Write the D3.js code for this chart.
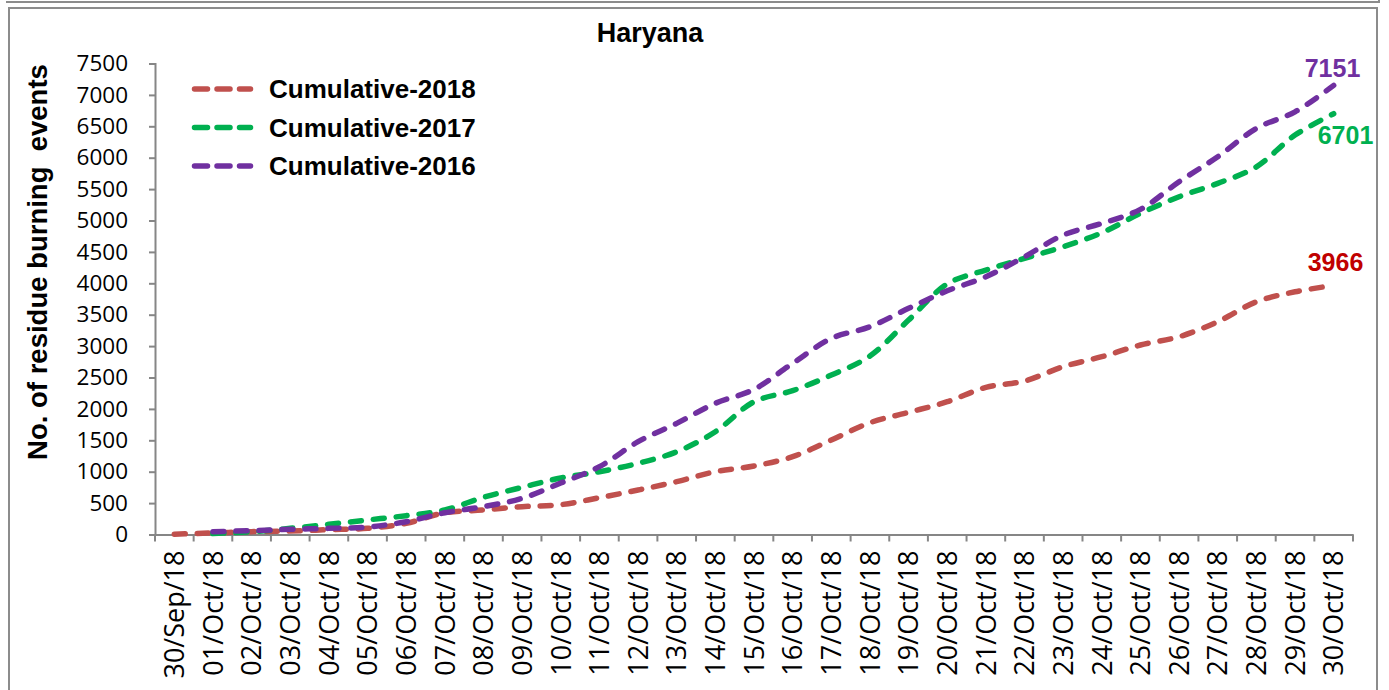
<!DOCTYPE html>
<html>
<head>
<meta charset="utf-8">
<script src="https://cdn.jsdelivr.net/npm/d3@7"></script>
<style>
  html, body { margin: 0; padding: 0; background: #fff; }
  svg { display: block; }
</style>
</head>
<body>
<svg id="chart" width="1389" height="690"></svg>
<script>
// ---- data ----
const categories = ["30/Sep/18","01/Oct/18","02/Oct/18","03/Oct/18","04/Oct/18","05/Oct/18","06/Oct/18",
  "07/Oct/18","08/Oct/18","09/Oct/18","10/Oct/18","11/Oct/18","12/Oct/18","13/Oct/18","14/Oct/18",
  "15/Oct/18","16/Oct/18","17/Oct/18","18/Oct/18","19/Oct/18","20/Oct/18","21/Oct/18","22/Oct/18",
  "23/Oct/18","24/Oct/18","25/Oct/18","26/Oct/18","27/Oct/18","28/Oct/18","29/Oct/18","30/Oct/18"];
const cumulative2018 = [5,25,45,55,77,98,178,347,390,443,475,586,708,841,1000,1090,1239,1504,1780,1945,
  2114,2343,2444,2672,2831,3017,3149,3388,3706,3865,3966];
const cumulative2017 = [null,15,45,98,162,231,300,390,592,751,900,1000,1133,1318,1637,2114,2290,2539,2842,3415,
  3990,4211,4397,4582,4805,5114,5378,5591,5855,6360,6701];
const cumulative2016 = [null,45,61,82,98,119,204,347,443,576,820,1080,1478,1770,2089,2311,2725,3123,3308,3601,
  3880,4104,4423,4768,4954,5177,5617,6015,6467,6731,7151];
const yTicks = [0,500,1000,1500,2000,2500,3000,3500,4000,4500,5000,5500,6000,6500,7000,7500];
const seriesNames = ["Cumulative-2018","Cumulative-2017","Cumulative-2016"];
const seriesColors = ["#C0504D","#00B050","#7030A0"];
const endLabelColors = ["#C00000","#00B050","#7030A0"];
const chartTitle = "Haryana";
const yTitle = "No. of residue burning  events";

const series = [cumulative2018, cumulative2017, cumulative2016];

// ---- layout ----
const svg = d3.select("#chart");
const plotLeft = 155, plotRight = 1353, plotTop = 63.5, plotBottom = 534.5;
const tickFont = "'Open Sans', 'Liberation Sans', Arial, sans-serif";
const boldFont = "'Liberation Sans', Arial, sans-serif";

// frames
svg.append("path").attr("d","M6,2 H1379 V-2").attr("fill","none").attr("stroke","#8c8c8c").attr("stroke-width",2);
svg.append("rect").attr("x",9).attr("y",8).attr("width",1368).attr("height",700)
  .attr("fill","none").attr("stroke","#8c8c8c").attr("stroke-width",2);

const x = d3.scaleBand().domain(categories).range([plotLeft, plotRight]).padding(0);
const y = d3.scaleLinear().domain([0, 7500]).range([plotBottom, plotTop]);
const cx = d => x(d) + x.bandwidth() / 2;

// y axis
const yAxis = svg.append("g").attr("transform", `translate(${plotLeft},0)`)
  .call(d3.axisLeft(y).tickValues(yTicks).tickSize(6).tickPadding(21).tickFormat(d3.format("d")));
yAxis.select(".domain").attr("stroke","#868686").attr("stroke-width",2);
yAxis.selectAll(".tick line").attr("stroke","#868686").attr("stroke-width",2);
yAxis.selectAll(".tick text").style("font-size","22.5px").style("font-family",tickFont).attr("fill","#000");

// x axis
const xAxis = svg.append("g").attr("transform", `translate(0,${plotBottom})`)
  .call(d3.axisBottom(x).tickSize(0).tickPadding(0));
xAxis.select(".domain").attr("stroke","#868686").attr("stroke-width",2);
xAxis.selectAll(".tick text")
  .style("font-size","27px").style("font-family",tickFont).attr("fill","#000")
  .attr("text-anchor","end").attr("transform","rotate(-90)")
  .attr("x",-16).attr("y",0).attr("dy","0.36em");
// boundary ticks
const edges = categories.map(d => x(d)).concat([x.range()[1]]);
xAxis.selectAll(".edge-tick").data(edges).enter().append("line")
  .attr("x1", d => d).attr("x2", d => d).attr("y1", 0).attr("y2", 7)
  .attr("stroke","#868686").attr("stroke-width",2);

// lines
const line = d3.line()
  .defined(d => d.v != null)
  .x(d => cx(d.c))
  .y(d => y(d.v))
  .curve(d3.curveCatmullRom.alpha(0.5));

series.forEach((s, i) => {
  const pts = categories.map((c, j) => ({c, v: s[j]}));
  svg.append("path").datum(pts)
    .attr("d", line)
    .attr("fill","none")
    .attr("stroke", seriesColors[i])
    .attr("stroke-width", 5.5)
    .attr("stroke-linecap","round")
    .attr("stroke-dasharray","11,12");
});

// end labels
const endPos = [
  {dx: -26, dy: -23},
  {dx: -16, dy: 21},
  {dx: -29, dy: -17}
];
series.forEach((s, i) => {
  const last = s[s.length - 1];
  svg.append("text")
    .attr("x", cx(categories[categories.length - 1]) + endPos[i].dx)
    .attr("y", y(last) + endPos[i].dy)
    .attr("dy","0.36em")
    .style("font-family",boldFont).style("font-size","25px").style("font-weight","bold")
    .attr("fill", endLabelColors[i])
    .text(last);
});

// title
svg.append("text").attr("x",650).attr("y",32).attr("dy","0.36em")
  .attr("text-anchor","middle")
  .style("font-family",boldFont).style("font-size","27px").style("font-weight","bold").text(chartTitle);

// y title
svg.append("text")
  .attr("transform","translate(37,262) rotate(-90)")
  .attr("text-anchor","middle").attr("dy","0.36em")
  .style("font-family",boldFont).style("font-size","27.5px").style("font-weight","bold")
  .style("white-space","pre")
  .text(yTitle);

// legend
const legend = svg.append("g");
seriesNames.forEach((n, i) => {
  const ly = 89 + i * 38.5;
  legend.append("line").attr("x1",194.5).attr("x2",250.5).attr("y1",ly).attr("y2",ly)
    .attr("stroke", seriesColors[i]).attr("stroke-width",5.5)
    .attr("stroke-linecap","round").attr("stroke-dasharray","13,9.5");
  legend.append("text").attr("x",269).attr("y",ly).attr("dy","0.36em")
    .style("font-family",boldFont).style("font-size","26px").style("font-weight","bold")
    .attr("fill","#000").text(n);
});
</script>
</body>
</html>
